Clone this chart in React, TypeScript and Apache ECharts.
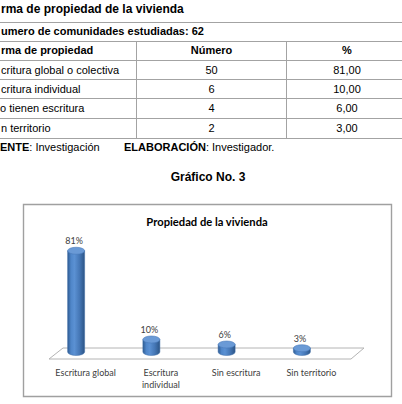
import React, { useEffect, useRef } from "react";
import * as echarts from "echarts";

const categories = ["Escritura global", "Escritura\nindividual", "Sin escritura", "Sin territorio"];
const percentValues = [81, 10, 6, 3];
// texts as visible in the (left-cropped) reference page
const tableTitle = "rma de propiedad de la vivienda";
const tableSubtitle = "umero de comunidades estudiadas: 62";
const tableHeaders = ["rma de propiedad", "Número", "%"];
const tableRowLabels = ["critura global o colectiva", "critura individual", "o tienen escritura", "n territorio"];
const tableCounts = ["50", "6", "4", "2"];
const tablePercents = ["81,00", "10,00", "6,00", "3,00"];
const chartTitle = "Propiedad de la vivienda";
const figureTitle = "Gráfico No. 3";

const ARIAL = "'Liberation Sans', Arial, sans-serif";
const CAL = "Lato, 'Open Sans', sans-serif";

export default function App() {
  const ref = useRef<HTMLDivElement>(null);
  useEffect(() => {
    if (!ref.current) return;
    const chart = echarts.init(ref.current, undefined, { renderer: "svg" });

    const lineColor = "#a3a3a3";
    const hLines = [22, 41, 60, 79, 98, 118, 138];
    const graphics: any[] = [];
    hLines.forEach((y) => {
      graphics.push({
        type: "line",
        shape: { x1: 0, y1: y + 0.5, x2: 402, y2: y + 0.5 },
        style: { stroke: lineColor, lineWidth: 1 },
      });
    });
    [136, 286].forEach((x) => {
      graphics.push({
        type: "line",
        shape: { x1: x + 0.5, y1: 41, x2: x + 0.5, y2: 138.5 },
        style: { stroke: lineColor, lineWidth: 1 },
      });
    });
    const txt = (text: string, x: number, y: number, opts: any = {}) => ({
      type: "text",
      x,
      y,
      style: {
        text,
        fill: "#000",
        fontFamily: ARIAL,
        fontSize: 11,
        textAlign: "left",
        textVerticalAlign: "middle",
        ...opts,
      },
    });
    graphics.push(txt(tableTitle, 1, 9, { fontSize: 12, fontWeight: "bold" }));
    graphics.push(txt(tableSubtitle, 1, 31, { fontWeight: "bold" }));
    graphics.push(txt(tableHeaders[0], 1, 50, { fontWeight: "bold" }));
    graphics.push(txt(tableHeaders[1], 211.5, 50, { fontWeight: "bold", textAlign: "center" }));
    graphics.push(txt(tableHeaders[2], 347, 50, { fontWeight: "bold", textAlign: "center" }));
    const rowXs = [1, 1, 0, 1];
    const rowYs = [69.5, 88.5, 108, 127.5];
    tableRowLabels.forEach((lab, i) => {
      graphics.push(txt(lab, rowXs[i], rowYs[i]));
      graphics.push(txt(tableCounts[i], 211.5, rowYs[i], { textAlign: "center" }));
      graphics.push(txt(tablePercents[i], 347, rowYs[i], { textAlign: "center" }));
    });
    graphics.push({
      type: "text",
      x: 0,
      y: 147,
      style: {
        text: "{b|ENTE}{r|: Investigación}",
        textVerticalAlign: "middle",
        rich: {
          b: { fontFamily: ARIAL, fontSize: 11, fontWeight: "bold", fill: "#000" },
          r: { fontFamily: ARIAL, fontSize: 11, fill: "#000" },
        },
      },
    });
    graphics.push({
      type: "text",
      x: 124,
      y: 147,
      style: {
        text: "{b|ELABORACIÓN}{r|: Investigador.}",
        textVerticalAlign: "middle",
        rich: {
          b: { fontFamily: ARIAL, fontSize: 11, fontWeight: "bold", fill: "#000" },
          r: { fontFamily: ARIAL, fontSize: 11, fill: "#000" },
        },
      },
    });
    graphics.push(txt(figureTitle, 208, 177, { fontSize: 12, fontWeight: "bold", textAlign: "center" }));
    // chart frame
    graphics.push({
      type: "rect",
      shape: { x: 23.5, y: 204.5, width: 368, height: 192 },
      style: { fill: "none", stroke: "#a0a0a0", lineWidth: 1.4 },
    });
    graphics.push(
      txt(chartTitle, 207, 221, {
        fontFamily: CAL,
        fontSize: 11.2,
        fontWeight: "bold",
        textAlign: "center",
      })
    );
    // floor
    graphics.push({
      type: "polygon",
      shape: { points: [[49, 359], [63, 348], [364, 348], [351, 359]] },
      style: { fill: "#ffffff", stroke: "#b4b4b4", lineWidth: 1 },
      z: -1,
    });

    const renderItem = (params: any, api: any) => {
      const idx = api.value(0);
      const val = api.value(1);
      const base = api.coord([idx, 0]);
      const top = api.coord([idx, val]);
      const cx = base[0] - 9.5;
      const yb = base[1];
      const yt = top[1];
      const rx = 8.5;
      const ry = 3.5;
      const x0 = cx - rx;
      const x1 = cx + rx;
      const body = `M${x0},${yt} L${x0},${yb} A${rx},${ry} 0 0 0 ${x1},${yb} L${x1},${yt} Z`;
      const cap = `M${x0},${yt} A${rx},${ry} 0 1 0 ${x1},${yt} A${rx},${ry} 0 1 0 ${x0},${yt} Z`;
      return {
        type: "group",
        children: [
          {
            type: "path",
            shape: { pathData: body },
            style: {
              fill: {
                type: "linear",
                x: 0,
                y: 0,
                x2: 1,
                y2: 0,
                colorStops: [
                  { offset: 0, color: "#2f5c92" },
                  { offset: 0.2, color: "#4f86c9" },
                  { offset: 0.4, color: "#5b91d3" },
                  { offset: 0.7, color: "#4577b6" },
                  { offset: 1, color: "#2c5586" },
                ],
              },
              stroke: "#3a6aa6",
              lineWidth: 0.5,
            },
          },
          {
            type: "path",
            shape: { pathData: cap },
            style: { fill: "#6a9ad6", stroke: "#4a7bbb", lineWidth: 0.6 },
          },
          {
            type: "text",
            style: {
              text: val + "%",
              x: cx - 2,
              y: yt - ry - 6.5,
              textAlign: "center",
              textVerticalAlign: "middle",
              fill: "#404040",
              fontFamily: CAL,
              fontSize: 9,
            },
          },
        ],
      };
    };

    chart.setOption({
      animation: false,
      backgroundColor: "#ffffff",
      graphic: graphics,
      grid: { left: 48, right: 53, top: 227, bottom: 45 },
      xAxis: {
        type: "category",
        data: categories,
        axisLine: { show: false },
        axisTick: { show: false },
        splitLine: { show: false },
        axisLabel: {
          interval: 0,
          margin: 7,
          fontSize: 9,
          lineHeight: 12,
          color: "#404040",
          fontFamily: CAL,
        },
      },
      yAxis: {
        type: "value",
        min: -5.6,
        max: 100,
        show: false,
        splitLine: { show: false },
      },
      series: [
        {
          type: "custom",
          renderItem,
          data: percentValues.map((v, i) => [i, v]),
          z: 5,
        },
      ],
    });
    return () => chart.dispose();
  }, []);
  return (
    <div
      ref={ref}
      style={{ position: "absolute", left: 0, top: 0, width: 402, height: 404, background: "#fff" }}
    />
  );
}
